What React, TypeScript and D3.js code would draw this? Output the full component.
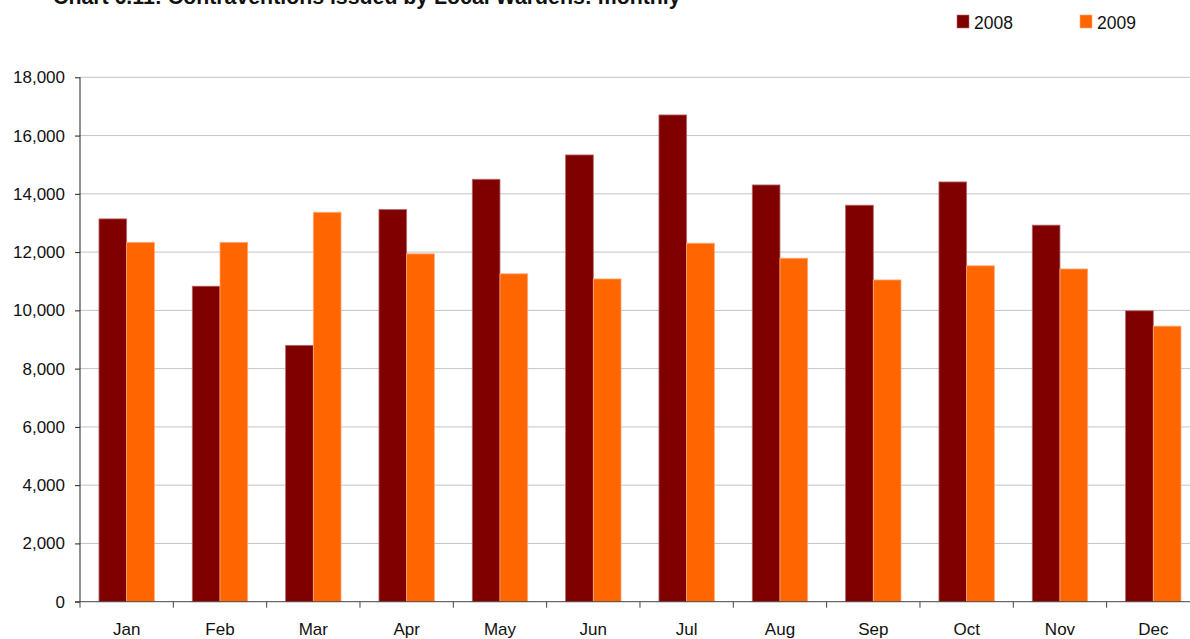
import React, { useEffect, useRef } from "react";
import * as d3 from "d3";

const months = ["Jan", "Feb", "Mar", "Apr", "May", "Jun", "Jul", "Aug", "Sep", "Oct", "Nov", "Dec"];
const series = ["2008", "2009"];
const values2008 = [13140, 10830, 8800, 13460, 14500, 15335, 16708, 14305, 13610, 14408, 12925, 9985];
const values2009 = [12335, 12335, 13367, 11940, 11255, 11078, 12305, 11790, 11044, 11530, 11421, 9458];
const yTicks = [0, 2000, 4000, 6000, 8000, 10000, 12000, 14000, 16000, 18000];
const colors = ["#800000", "#FF6600"];
const strokes = ["#b56a6a", "#ffa878"];

const layout = {
  width: 1190,
  height: 639,
  margin: { l: 80, t: 77.3, b: 37.3 },
  band: 93.33,
};

export default function App() {
  const ref = useRef<SVGSVGElement>(null);

  useEffect(() => {
    const svg = d3.select(ref.current);
    svg.selectAll("*").remove();
    const font = "Arial, 'Liberation Sans', sans-serif";
    const plotBottom = layout.height - layout.margin.b;

    var xScale = d3
      .scaleBand()
      .domain(months)
      .range([layout.margin.l, layout.margin.l + layout.band * months.length])
      .paddingInner(0)
      .paddingOuter(0);
    var x1 = d3
      .scaleBand()
      .domain(series)
      .range([0, xScale.bandwidth()])
      .paddingInner(0)
      .paddingOuter(0.685);
    var yScale = d3.scaleLinear().domain([0, 18000]).range([plotBottom, layout.margin.t]);

    // grid lines
    svg
      .append("g")
      .selectAll("line")
      .data(yTicks.slice(1))
      .join("line")
      .attr("x1", layout.margin.l)
      .attr("x2", layout.width)
      .attr("y1", (d) => yScale(d))
      .attr("y2", (d) => yScale(d))
      .attr("stroke", "#c4c4c4")
      .attr("stroke-width", 1);

    // bars
    const rows = months.map((m, i) => ({ m, vals: [values2008[i], values2009[i]] }));
    const groups = svg
      .append("g")
      .selectAll("g")
      .data(rows)
      .join("g")
      .attr("transform", (d) => `translate(${xScale(d.m)},0)`);
    groups
      .selectAll("rect")
      .data((d) => d.vals.map((v, k) => ({ v, k })))
      .join("rect")
      .attr("x", (d) => x1(series[d.k])!)
      .attr("width", x1.bandwidth())
      .attr("y", (d) => yScale(d.v))
      .attr("height", (d) => plotBottom - yScale(d.v))
      .attr("fill", (d) => colors[d.k])
      .attr("stroke", (d) => strokes[d.k])
      .attr("stroke-width", 0.8);

    // y axis
    const yAxis = svg
      .append("g")
      .attr("transform", `translate(${layout.margin.l},0)`)
      .call(
        d3
          .axisLeft(yScale)
          .tickValues(yTicks)
          .tickSize(5)
          .tickPadding(10)
          .tickFormat((d) => d3.format(",")(d as number)) as any
      );
    yAxis.select(".domain").attr("stroke", "#222").attr("d", `M0,${layout.margin.t}V${plotBottom}`);
    yAxis.selectAll(".tick line").attr("stroke", "#222");
    yAxis
      .selectAll("text")
      .attr("font-family", font)
      .attr("font-size", 17)
      .attr("fill", "#111");

    // x axis
    const xAxis = svg
      .append("g")
      .attr("transform", `translate(0,${plotBottom})`)
      .call(d3.axisBottom(xScale).tickSize(0).tickPadding(21) as any);
    xAxis.select(".domain").attr("stroke", "#444").attr("d", `M${layout.margin.l - 5},0H${layout.width}`);
    xAxis.selectAll("text").attr("font-family", font).attr("font-size", 17).attr("fill", "#111");
    xAxis
      .append("g")
      .selectAll("line")
      .data(months)
      .join("line")
      .attr("x1", (d) => xScale(d)!)
      .attr("x2", (d) => xScale(d)!)
      .attr("y1", 0)
      .attr("y2", 6)
      .attr("stroke", "#444");

    // title (cut at top)
    svg
      .append("text")
      .attr("x", 53)
      .attr("y", 4)
      .attr("font-family", font)
      .attr("font-weight", "bold")
      .attr("font-size", 21.3)
      .attr("fill", "#111")
      .text("Chart 6.11: Contraventions issued by Local Wardens: monthly");

    // legend
    const legendX = [957, 1080];
    const legend = svg
      .append("g")
      .selectAll("g")
      .data(series)
      .join("g")
      .attr("transform", (_, i) => `translate(${legendX[i]},15)`);
    legend
      .append("rect")
      .attr("width", 12)
      .attr("height", 13)
      .attr("fill", (_, i) => colors[i])
      .attr("stroke", (_, i) => strokes[i])
      .attr("stroke-width", 0.6);
    legend
      .append("text")
      .attr("x", 17)
      .attr("y", 13.5)
      .attr("font-family", font)
      .attr("font-size", 17.5)
      .attr("fill", "#111")
      .text((d) => d);
  }, []);

  return (
    <>
      <style>{"body{margin:0;overflow:hidden}"}</style>
      <svg ref={ref} width={layout.width} height={layout.height} style={{ display: "block", background: "#fff" }} />
    </>
  );
}
